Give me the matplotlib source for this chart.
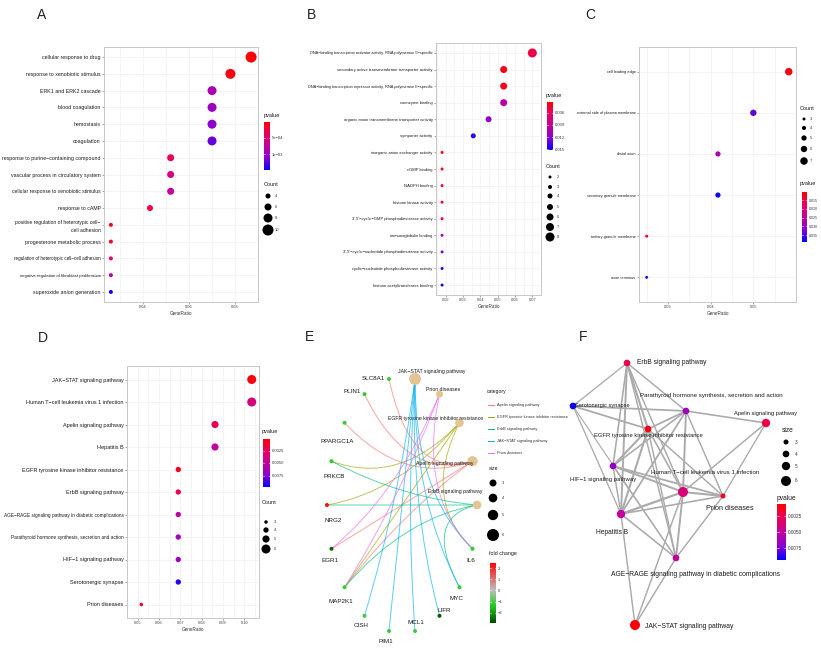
import numpy as np
import matplotlib
matplotlib.use("Agg")
import matplotlib.pyplot as plt
from matplotlib.colors import LinearSegmentedColormap
from matplotlib.path import Path
from matplotlib.patches import PathPatch

plt.rcParams["font.family"] = ["Liberation Sans", "DejaVu Sans"]

# ---------------- data ----------------
# A: GO biological process
a_terms = ["cellular response to drug", "response to xenobiotic stimulus", "ERK1 and ERK2 cascade",
           "blood coagulation", "hemostasis", "coagulation", "response to purine\u2212containing compound",
           "vascular process in circulatory system", "cellular response to xenobiotic stimulus",
           "response to cAMP", "positive regulation of heterotypic cell\u2212\ncell adhesion",
           "progesterone metabolic process", "regulation of heterotypic cell\u2212cell adhesion",
           "negative regulation of fibroblast proliferation", "superoxide anion generation"]
a_ratio = [0.087, 0.078, 0.070, 0.070, 0.070, 0.070, 0.052, 0.052, 0.052, 0.043, 0.026, 0.026, 0.026, 0.026, 0.026]
a_count = [10, 9, 8, 8, 8, 8, 6, 6, 6, 5, 3, 3, 3, 3, 3]
a_pval = [3e-5, 8e-5, 9e-4, 1.0e-3, 1.1e-3, 1.2e-3, 3.5e-4, 5.5e-4, 7.5e-4, 2.5e-4, 1.5e-4, 2e-4, 4e-4, 8.5e-4, 1.42e-3]

# B: GO molecular function
b_terms = ["DNA\u2212binding transcription activator activity, RNA polymerase II\u2212specific",
           "secondary active transmembrane transporter activity",
           "DNA\u2212binding transcription repressor activity, RNA polymerase II\u2212specific",
           "coenzyme binding", "organic anion transmembrane transporter activity", "symporter activity",
           "inorganic anion exchanger activity", "cGMP binding", "NADPH binding", "histone kinase activity",
           "3',5'\u2212cyclic\u2212GMP phosphodiesterase activity", "immunoglobulin binding",
           "3',5'\u2212cyclic\u2212nucleotide phosphodiesterase activity",
           "cyclic\u2212nucleotide phosphodiesterase activity", "histone acetyltransferase binding"]
b_ratio = [0.070, 0.0535, 0.0535, 0.0535, 0.0448, 0.036, 0.018, 0.018, 0.018, 0.018, 0.018, 0.018, 0.018, 0.018, 0.018]
b_count = [8, 6, 6, 6, 5, 4, 2, 2, 2, 2, 2, 2, 2, 2, 2]
b_pval = [0.0055, 0.0040, 0.0042, 0.0098, 0.0118, 0.0140, 0.0040, 0.0040, 0.0044, 0.0045, 0.0050,
          0.0112, 0.0122, 0.0145, 0.0150]

# C: GO cellular component
c_terms = ["cell leading edge", "external side of plasma membrane", "distal axon",
           "secretory granule membrane", "tertiary granule membrane", "axon terminus"]
c_ratio = [0.0583, 0.050, 0.0417, 0.0417, 0.025, 0.025]
c_count = [7, 6, 5, 5, 3, 3]
c_pval = [0.012, 0.034, 0.028, 0.038, 0.013, 0.036]

# D: KEGG
d_terms = ["JAK\u2212STAT signaling pathway", "Human T\u2212cell leukemia virus 1 infection",
           "Apelin signaling pathway", "Hepatitis B", "EGFR tyrosine kinase inhibitor resistance",
           "ErbB signaling pathway", "AGE\u2212RAGE signaling pathway in diabetic complications",
           "Parathyroid hormone synthesis, secretion and action", "HIF\u22121 signaling pathway",
           "Serotonergic synapse", "Prion diseases"]
d_ratio = [0.1034, 0.1034, 0.0862, 0.0862, 0.069, 0.069, 0.069, 0.069, 0.069, 0.069, 0.0517]
d_count = [6, 6, 5, 5, 4, 4, 4, 4, 4, 4, 3]
d_pval = [0.0006, 0.0038, 0.0022, 0.0050, 0.0012, 0.0024, 0.0050, 0.0064, 0.0068, 0.0092, 0.0015]

# E: gene-concept network
e_categories = ["ErbB signaling pathway", "Apelin signaling pathway",
                "EGFR tyrosine kinase inhibitor resistance", "Prion diseases", "JAK\u2212STAT signaling pathway"]
e_genes = ["SLC8A1", "PLIN1", "PPARGC1A", "PRKCB", "NRG2", "EGR1", "MAP2K1",
           "CISH", "PIM1", "MCL1", "LIFR", "MYC", "IL6"]
e_foldchange = [-1.2, -1.3, -1.2, -1.3, 2.3, -2.6, -1.2, -1.1, -1.2, -1.1, -2.7, -1.2, -1.3]
e_members = {
    "Apelin signaling pathway": ["SLC8A1", "PLIN1", "PPARGC1A", "EGR1", "MAP2K1"],
    "EGFR tyrosine kinase inhibitor resistance": ["NRG2", "PRKCB", "MAP2K1", "IL6"],
    "ErbB signaling pathway": ["NRG2", "PRKCB", "MAP2K1", "MYC"],
    "JAK\u2212STAT signaling pathway": ["IL6", "MYC", "PIM1", "CISH", "MCL1", "LIFR"],
    "Prion diseases": ["IL6", "MAP2K1", "EGR1"],
}
legend_order = ["Apelin signaling pathway", "EGFR tyrosine kinase inhibitor resistance",
                "ErbB signaling pathway", "JAK\u2212STAT signaling pathway", "Prion diseases"]

# F: enrichment map (layout, arbitrary units)
f_nodes = d_terms
f_layout = [(95, 295), (143, 162), (226, 93), (81, 184), (108, 99), (87, 33),
            (136, 228), (146, 81), (73, 136), (33, 76), (183, 166)]
f_edges = [(5, 9, .25), (5, 7, .3), (5, 4, .5), (5, 8, .35), (5, 3, .45), (5, 1, .3), (5, 6, .3),
           (9, 7, .4), (9, 4, .4), (9, 3, .25), (9, 6, .2), (7, 2, .35), (7, 4, .4), (7, 8, .35),
           (7, 1, .45), (7, 10, .3), (7, 3, .4), (2, 1, .3), (2, 10, .25), (4, 8, .5), (4, 3, .5),
           (4, 1, .35), (4, 10, .3), (4, 6, .3), (8, 1, .45), (8, 10, .4), (8, 3, .3), (8, 6, .25),
           (1, 10, .5), (1, 3, .55), (1, 6, .45), (1, 0, .3), (3, 10, .35), (3, 6, .35), (3, 0, .3),
           (6, 10, .3), (6, 0, .3)]

# ---------------- helpers ----------------
W, H = 821, 650
PT = 72 / 100
PV = LinearSegmentedColormap.from_list("pv", ["#ff0000", "#e8005e", "#c2009a", "#8c00d0", "#0000ff"])
FC = LinearSegmentedColormap.from_list(
    "fc", [(0, "#004800"), (0.28, "#22cc22"), (0.54, "#bebebe"), (1, "#ff0000")])
CAT_COL = {"Apelin signaling pathway": "#F8766D", "EGFR tyrosine kinase inhibitor resistance": "#A3A500",
           "ErbB signaling pathway": "#00BF7D", "JAK\u2212STAT signaling pathway": "#00B0F6",
           "Prion diseases": "#E76BF3"}
TXT = "#1a1a1a"

fig = plt.figure(figsize=(W / 100, H / 100), dpi=100)
ov = fig.add_axes([0, 0, 1, 1])
ov.set_xlim(0, W); ov.set_ylim(H, 0); ov.axis("off")


def rect(x0, y0, x1, y1):
    return [x0 / W, 1 - y1 / H, (x1 - x0) / W, (y1 - y0) / H]


def sizer(cmin, cmax, dmin, dmax):
    return lambda c: ((dmin + (dmax - dmin) * (np.asarray(c, float) - cmin) / (cmax - cmin)) * PT) ** 2


def dotplot(box, terms, ratio, pval, count, vmin, vmax, xlim, xticks, xtl, base, maxlen, sz):
    ax = fig.add_axes(rect(*box))
    n = len(terms)
    y = np.arange(n)[::-1]
    ax.scatter(ratio, y, s=sz(count), c=pval, cmap=PV, vmin=vmin, vmax=vmax,
               edgecolors="none", zorder=3)
    ax.set_xlim(*xlim); ax.set_ylim(-0.6, n - 0.4)
    ax.set_yticks(y)
    ax.set_yticklabels(terms, color=TXT, linespacing=1.6)
    for lab, t in zip(ax.get_yticklabels(), terms):
        L = max(len(s) for s in t.split("\n"))
        lab.set_fontsize(base * min(1, maxlen / L))
    ax.set_xticks(xticks)
    ax.set_xticklabels(xtl, fontsize=2.9, color="#444")
    step = xticks[1] - xticks[0]
    mids = [t + step / 2 for t in [xticks[0] - step] + list(xticks)]
    ax.set_xticks(mids, minor=True)
    ax.set_xlabel("GeneRatio", fontsize=3.3, labelpad=1, color="#333")
    ax.tick_params(length=1.5, width=0.4, color="#666", pad=1)
    ax.tick_params(which="minor", length=0)
    ax.grid(True, which="both", color="#ededed", lw=0.4)
    ax.set_axisbelow(True)
    for sp in ax.spines.values():
        sp.set_color("#c8c8c8"); sp.set_linewidth(0.7)
    return ax


def colorbar(box, cmap, vmin, vmax, ticks, labels, top_low=True, fs=3):
    cax = fig.add_axes(rect(*box))
    grad = np.linspace(vmin, vmax, 256).reshape(-1, 1)
    if top_low:
        cax.imshow(grad, aspect="auto", cmap=cmap, vmin=vmin, vmax=vmax,
                   extent=[0, 1, vmax, vmin], origin="upper")
        cax.set_ylim(vmax, vmin)
    else:
        cax.imshow(grad, aspect="auto", cmap=cmap, vmin=vmin, vmax=vmax,
                   extent=[0, 1, vmin, vmax], origin="lower")
        cax.set_ylim(vmin, vmax)
    cax.set_xticks([])
    cax.yaxis.tick_right()
    cax.set_yticks(ticks)
    cax.set_yticklabels(labels, fontsize=fs, color="#333")
    cax.tick_params(length=0, pad=1.5)
    for sp in cax.spines.values():
        sp.set_visible(False)
    for t in ticks:
        cax.plot([0, 0.2], [t, t], color="white", lw=0.4)
        cax.plot([0.8, 1], [t, t], color="white", lw=0.4)
    return cax


def size_legend(x, ytitle, title, values, ys, sz, labx, fs=3, tfs=4.0):
    ov.text(x, ytitle, title, fontsize=tfs, color=TXT, va="center")
    ov.scatter([x + 4] * len(values), ys, s=sz(values), color="black", edgecolors="none")
    for v, yy in zip(values, ys):
        ov.text(labx, yy, str(v), fontsize=fs, va="center", color="#333")


# ---------------- panel A ----------------
sa = sizer(3, 10, 4, 11)
dotplot((104, 47, 258, 302), a_terms, a_ratio, a_pval, a_count, 2e-5, 1.47e-3,
        (0.023, 0.09), [0.04, 0.06, 0.08], ["0.04", "0.06", "0.08"], 3.8, 38, sa)
ov.text(264, 116, "pvalue", fontsize=4.0, color=TXT, va="center")
colorbar((264, 122, 270, 170), PV, 2e-5, 1.47e-3, [5e-4, 1e-3], ["5e\u221204", "1e\u221203"])
size_legend(264, 184, "Count", [4, 6, 8, 10], [196, 207, 218, 230], sa, 275)

# ---------------- panel B ----------------
sb = sizer(2, 8, 3, 9)
dotplot((436, 43, 541, 295), b_terms, b_ratio, b_pval, b_count, 0.0033, 0.0152,
        (0.0145, 0.072), [0.02, 0.03, 0.04, 0.05, 0.06, 0.07],
        ["0.02", "0.03", "0.04", "0.05", "0.06", "0.07"], 3.0, 66, sb)
ov.text(546, 95, "pvalue", fontsize=4.0, color=TXT, va="center")
colorbar((547, 102, 553, 150), PV, 0.0033, 0.0152, [0.006, 0.009, 0.012, 0.015],
         ["0.006", "0.009", "0.012", "0.015"])
size_legend(546, 166, "Count", [2, 3, 4, 5, 6, 7, 8], [177, 187, 196, 207, 217, 227, 237], sb, 557)

# ---------------- panel C ----------------
sc = sizer(3, 7, 3, 7.5)
dotplot((639, 47, 796, 302), c_terms, c_ratio, c_pval, c_count, 0.0103, 0.039,
        (0.0232, 0.060), [0.03, 0.04, 0.05], ["0.03", "0.04", "0.05"], 2.8, 60, sc)
size_legend(800, 108, "Count", [3, 4, 5, 6, 7], [119, 128, 138, 149, 161], sc, 810)
ov.text(800, 183, "pvalue", fontsize=4.0, color=TXT, va="center")
colorbar((802, 192, 807, 242), PV, 0.0103, 0.039, [0.015, 0.02, 0.025, 0.03, 0.035],
         ["0.015", "0.020", "0.025", "0.030", "0.035"], fs=2.6)

# ---------------- panel D ----------------
sd = sizer(3, 6, 3.5, 9)
dotplot((127, 366, 259, 618), d_terms, d_ratio, d_pval, d_count, 0.0002, 0.0098,
        (0.049, 0.1068), [0.05, 0.06, 0.07, 0.08, 0.09, 0.10],
        ["0.05", "0.06", "0.07", "0.08", "0.09", "0.10"], 4.0, 44, sd)
ov.text(262, 431, "pvalue", fontsize=4.0, color=TXT, va="center")
colorbar((263, 439, 270, 487), PV, 0.0002, 0.0098, [0.0025, 0.005, 0.0075],
         ["0.0025", "0.0050", "0.0075"])
size_legend(262, 503, "Count", [3, 4, 5, 6], [522, 530, 539, 549], sd, 274)

# ---------------- panel E ----------------
ae = fig.add_axes(rect(302, 365, 502, 645))
ae.set_xlim(-1.333, 1.333); ae.set_ylim(-1.094, 1.094); ae.axis("off")
e_nodes = e_categories + e_genes
ang = 2 * np.pi * np.arange(len(e_nodes)) / len(e_nodes)
pos = {nm: np.array([np.cos(a), np.sin(a)]) for nm, a in zip(e_nodes, ang)}
for cat in legend_order:
    for g in e_members[cat]:
        p0, p1 = pos[g], pos[cat]
        ctrl = (p0 + p1) / 2 * 0.3
        path = Path([p0, ctrl, p1], [Path.MOVETO, Path.CURVE3, Path.CURVE3])
        ae.add_patch(PathPatch(path, fc="none", ec=CAT_COL[cat], lw=0.7, alpha=0.65, zorder=2))
se = sizer(3, 6, 7, 12)
cat_size = [len(e_members[c]) for c in e_categories]
ae.scatter([pos[c][0] for c in e_categories], [pos[c][1] for c in e_categories],
           s=se(cat_size), color="#E5C494", edgecolors="none", zorder=3)
ae.scatter([pos[g][0] for g in e_genes], [pos[g][1] for g in e_genes], s=(4 * PT) ** 2,
           c=e_foldchange, cmap=FC, vmin=-2.9, vmax=2.45, edgecolors="none", zorder=3)
gene_off = {"SLC8A1": (-4, 0, "right"), "PLIN1": (-4, -3, "right"), "PPARGC1A": (-7, 19, "center"),
            "PRKCB": (3, 15, "center"), "NRG2": (6, 15, "center"), "EGR1": (-2, 12, "center"),
            "MAP2K1": (-4, 14, "center"), "CISH": (-3, 10, "center"), "PIM1": (-3, 10, "center"),
            "MCL1": (1, -9, "center"), "LIFR": (5, -5, "center"), "MYC": (-3, 11, "center"),
            "IL6": (-2, 12, "center")}
for g, (dx, dy, ha) in gene_off.items():
    ae.annotate(g, pos[g], xytext=(dx * PT, -dy * PT), textcoords="offset points",
                ha=ha, va="center", fontsize=4.5, color=TXT, zorder=5)
cat_off = {"JAK\u2212STAT signaling pathway": (17, -7), "Prion diseases": (4, -5),
           "EGFR tyrosine kinase inhibitor resistance": (-24, -4),
           "Apelin signaling pathway": (-28, 2), "ErbB signaling pathway": (-22, -14)}
for c, (dx, dy) in cat_off.items():
    ae.annotate(c, pos[c], xytext=(dx * PT, -dy * PT), textcoords="offset points",
                ha="center", va="center", fontsize=3.7, color=TXT, zorder=5)

ov.text(487, 392, "category", fontsize=3.6, color=TXT, va="center")
for i, c in enumerate(legend_order):
    yy = 405 + i * 12
    ov.plot([488, 494], [yy, yy], color=CAT_COL[c], lw=0.7)
    ov.text(497, yy, c, fontsize=2.8, color="#333", va="center")
size_legend(489, 468, "size", [3, 4, 5, 6], [483, 498, 515, 535], se, 502, fs=3, tfs=3.8)
ov.text(489, 553, "fold change", fontsize=3.8, color=TXT, va="center")
colorbar((490, 563, 496, 623), FC, -2.9, 2.45, [2, 1, 0, -1, -2], ["2", "1", "0", "\u22121", "\u22122"],
         top_low=False)

# ---------------- panel F ----------------
af = fig.add_axes(rect(540, 330, 821, 650))
af.set_xlim(0, 281); af.set_ylim(320, 0); af.axis("off")
for i, j, sim in f_edges:
    (x0, y0), (x1, y1) = f_layout[i], f_layout[j]
    af.plot([x0, x1], [y0, y1], color="#ababab", lw=0.4 + 2.2 * sim, solid_capstyle="round", zorder=1)
sf = sizer(3, 6, 5, 10)
af.scatter([p[0] for p in f_layout], [p[1] for p in f_layout], s=sf(d_count), c=d_pval, cmap=PV,
           vmin=0.0006, vmax=0.0094, edgecolors="none", zorder=3)
f_lab = [(10, 1, "left", 4.9), (22, -20, "center", 4.45), (-1, -9, "center", 4.15),
         (-9, 18, "center", 4.8), (0, 7, "center", 4.2), (10, 0, "left", 4.8),
         (19, 16, "center", 4.85), (25, -15, "center", 4.45), (-10, 13, "center", 4.3),
         (2, 0, "left", 4.1), (7, 13, "center", 5.2)]
for nm, p, (dx, dy, ha, fs) in zip(f_nodes, f_layout, f_lab):
    af.annotate(nm, p, xytext=(dx * PT, -dy * PT), textcoords="offset points",
                ha=ha, va="center", fontsize=fs, color=TXT, zorder=5)
size_legend(782, 431, "size", [3, 4, 5, 6], [442, 454, 466, 481], sf, 795, fs=3.3, tfs=4.8)
ov.text(777, 498, "pvalue", fontsize=4.8, color=TXT, va="center")
colorbar((777, 504, 786, 560), PV, 0.0006, 0.0094, [0.0025, 0.005, 0.0075],
         ["0.0025", "0.0050", "0.0075"], fs=3.4)

# ---------------- panel letters ----------------
for lab, x, y in [("A", 42, 15), ("B", 311, 15), ("C", 590, 15),
                  ("D", 43, 338), ("E", 309, 337), ("F", 583, 337)]:
    ov.text(x, y, lab, fontsize=10, color="#222", ha="center", va="center")

fig.savefig("out.png", dpi=100)
